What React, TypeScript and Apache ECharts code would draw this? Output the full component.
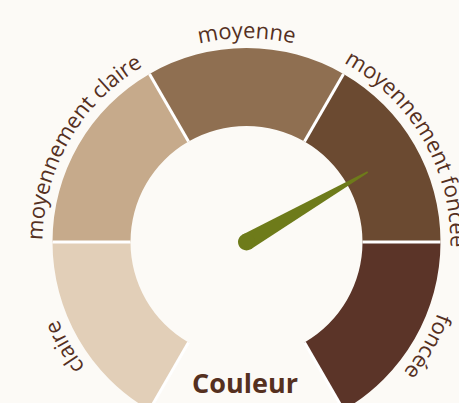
import React, { useEffect, useRef } from "react";
import * as echarts from "echarts";

const categories = ["claire", "moyennement claire", "moyenne", "moyennement foncée", "foncée"];
const segmentColors = ["#e2cfb8", "#c6aa8b", "#8f6f51", "#6b4a31", "#5b3428"];
const gaugeValue = 70;
const gaugeMin = 0;
const gaugeMax = 100;
const title = "Couleur";

const W = 459;
const H = 403;
const CX = 246.5;
const CY = 242;
const R_OUT = 194;
const R_IN = 116;
const START = 240;
const END = -60;
const BG = "#fcfaf6";
const TEXT_COLOR = "#55301f";
const LABEL_FONT_SIZE = 22;
const LABEL_FONT = `${LABEL_FONT_SIZE}px "Open Sans"`;
const BASE_R = 205;

function curvedLabels(): any[] {
  const canvas = document.createElement("canvas");
  const ctx = canvas.getContext("2d")!;
  ctx.font = LABEL_FONT;
  const out: any[] = [];
  const n = categories.length;
  const span = (START - END) / n;
  categories.forEach((label, idx) => {
    const thetaC = ((START - span * (idx + 0.5)) * Math.PI) / 180;
    const total = ctx.measureText(label).width;
    const rMid = BASE_R + 0.36 * LABEL_FONT_SIZE;
    for (let i = 0; i < label.length; i++) {
      const ch = label[i];
      if (ch === " ") continue;
      const a = ctx.measureText(label.slice(0, i)).width;
      const b = ctx.measureText(label.slice(0, i + 1)).width;
      const s = (a + b) / 2;
      const theta = thetaC + (total / 2 - s) / BASE_R;
      out.push({
        type: "text",
        x: CX + rMid * Math.cos(theta),
        y: CY - rMid * Math.sin(theta),
        rotation: theta - Math.PI / 2,
        silent: true,
        style: {
          text: ch,
          font: LABEL_FONT,
          fill: TEXT_COLOR,
          textAlign: "center",
          textVerticalAlign: "middle",
        },
      });
    }
  });
  return out;
}

export default function App() {
  const ref = useRef<HTMLDivElement>(null);
  useEffect(() => {
    if (!ref.current) return;
    const chart = echarts.init(ref.current, null, { renderer: "svg" });
    const n = categories.length;
    const stops = segmentColors.map((c, i) => [(i + 1) / n, c]);
    chart.setOption({
      animation: false,
      backgroundColor: BG,
      series: [
        {
          type: "gauge",
          center: [CX, CY],
          radius: R_OUT,
          startAngle: START,
          endAngle: END,
          min: gaugeMin,
          max: gaugeMax,
          splitNumber: n,
          axisLine: {
            roundCap: false,
            lineStyle: { width: R_OUT - R_IN, color: stops },
          },
          splitLine: {
            show: true,
            length: R_OUT - R_IN,
            distance: -(R_OUT - R_IN),
            lineStyle: { color: "#ffffff", width: 3 },
          },
          axisTick: { show: false },
          axisLabel: { show: false },
          pointer: {
            icon: "path://M0,100 L9,0 L11,0 L20,100 Z",
            length: 140,
            width: 17,
            itemStyle: { color: "#6e7b1a" },
          },
          anchor: {
            show: true,
            showAbove: true,
            size: 17,
            itemStyle: { color: "#6e7b1a", borderWidth: 0 },
          },
          title: {
            show: true,
            offsetCenter: [-1.5, 140],
            color: TEXT_COLOR,
            fontSize: 27,
            fontWeight: "bold",
            fontFamily: "Open Sans",
          },
          detail: { show: false },
          data: [{ value: gaugeValue, name: title }],
        },
      ],
      graphic: curvedLabels(),
    });
    return () => chart.dispose();
  }, []);
  return (
    <div
      ref={ref}
      style={{ position: "absolute", left: 0, top: 0, width: W, height: H }}
    />
  );
}
